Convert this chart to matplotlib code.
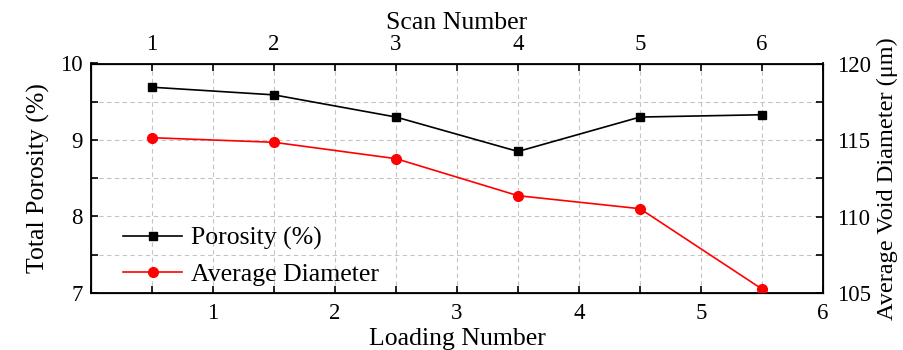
import matplotlib
matplotlib.use('Agg')
import matplotlib.pyplot as plt
import matplotlib.ticker as ticker

loading = [0.5, 1.5, 2.5, 3.5, 4.5, 5.5]
scan_labels = ['1', '2', '3', '4', '5', '6']
porosity = [9.69, 9.59, 9.30, 8.85, 9.30, 9.33]
diameter = [115.15, 114.85, 113.78, 111.36, 110.51, 105.26]

plt.rcParams['font.family'] = ['Liberation Serif', 'DejaVu Serif']

TICK_FS = 16.5
LABEL_FS = 18.5

fig = plt.figure(figsize=(9.04, 3.5), dpi=100)
ax1 = fig.add_axes([91 / 904, 1 - 293 / 350, (823 - 91) / 904, (293 - 63.5) / 350])

ax1.set_xlim(0, 6)
ax1.set_ylim(7, 10)
ax1.xaxis.set_major_locator(ticker.MultipleLocator(1))
ax1.xaxis.set_minor_locator(ticker.MultipleLocator(0.5))
ax1.yaxis.set_major_locator(ticker.MultipleLocator(1))
ax1.yaxis.set_minor_locator(ticker.MultipleLocator(0.5))
ax1.xaxis.set_major_formatter(ticker.FuncFormatter(lambda v, p: '' if v == 0 else '%d' % v))
ax1.grid(True, which='both', linestyle=(0, (4, 3)), color='#c4c4c4', linewidth=0.8)
ax1.set_axisbelow(True)
ax1.tick_params(which='both', direction='in', labelsize=TICK_FS, width=1.2, length=5)
ax1.tick_params(axis='y', pad=6)
ax1.tick_params(axis='x', pad=7)
for s in ax1.spines.values():
    s.set_linewidth(1.3)

l1, = ax1.plot(loading, porosity, color='black', marker='s', markersize=6, linewidth=1.2,
               label='Porosity (%)')
ax1.set_xlabel('Loading Number', fontsize=LABEL_FS, labelpad=3)
ax1.set_ylabel('Total Porosity (%)', fontsize=LABEL_FS, labelpad=7)

ax2 = ax1.twinx()
ax2.set_ylim(105, 120)
ax2.yaxis.set_major_locator(ticker.MultipleLocator(5))
ax2.yaxis.set_minor_locator(ticker.MultipleLocator(2.5))
ax2.tick_params(which='both', direction='in', labelsize=TICK_FS, width=1.2, length=5, pad=10)
l2, = ax2.plot(loading, diameter, color='red', marker='o', markersize=7, linewidth=1.2,
               label='Average Diameter')
ax2.set_ylabel('Average Void Diameter (μm)', fontsize=17.5, labelpad=4)

ax3 = ax1.twiny()
ax3.set_xlim(0, 6)
ax3.set_xticks(loading)
ax3.set_xticklabels(scan_labels)
ax3.xaxis.set_minor_locator(ticker.MultipleLocator(1))
ax3.tick_params(which='both', direction='in', labelsize=TICK_FS, width=1.2, length=5, pad=6)
ax3.set_xlabel('Scan Number', fontsize=LABEL_FS, labelpad=4)

ax1.legend([l1, l2], ['Porosity (%)', 'Average Diameter'], loc='lower left',
           bbox_to_anchor=(0.044, 0.03), frameon=False, fontsize=LABEL_FS,
           borderpad=0, borderaxespad=0,
           handlelength=2.3, handletextpad=0.32, labelspacing=0.5)

fig.savefig('out.png', dpi=100)
